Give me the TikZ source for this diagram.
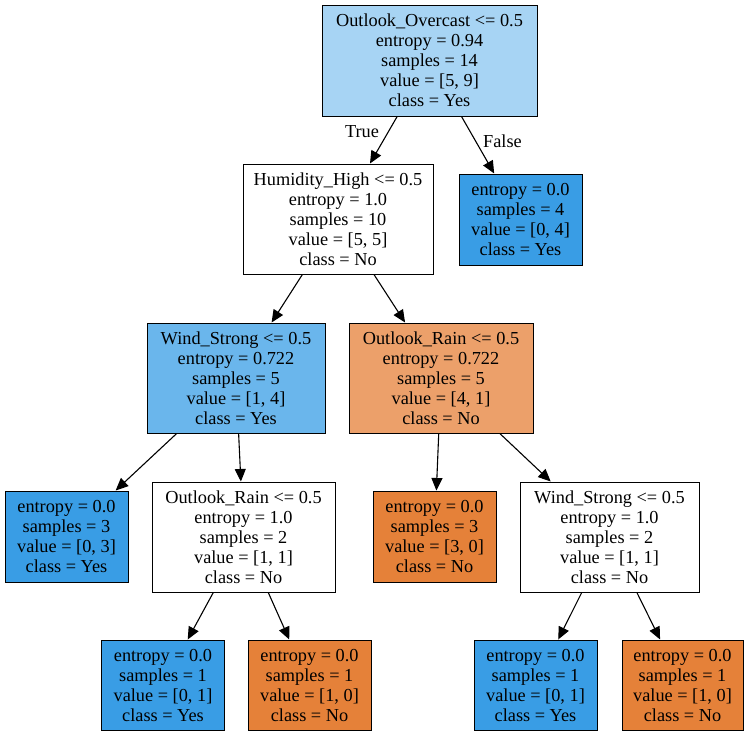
\documentclass[tikz,border=0pt]{standalone}
\usepackage{fontspec}
\setmainfont{Liberation Serif}
\usetikzlibrary{arrows.meta}
\definecolor{yesfull}{HTML}{399DE5}
\definecolor{nofull}{HTML}{E58139}
\definecolor{yeslight}{HTML}{A7D4F4}
\definecolor{yesmid}{HTML}{6AB6EC}
\definecolor{nomid}{HTML}{ECA06A}
\begin{document}
\begin{tikzpicture}[x=1pt,y={(0pt,-1pt)},
  box/.style={draw=black, line width=1pt, inner sep=0pt, align=center,
    font=\fontsize{18.3}{20}\selectfont},
  leafbox/.style={box, minimum width=123pt, minimum height=91pt},
  edge/.style={-{Triangle[length=12.5pt,width=11pt]}, line width=1.1pt},
  elabel/.style={inner sep=0pt, font=\fontsize{18.3}{20}\selectfont}]
\useasboundingbox (0,0) rectangle (749,736);
\fill[white] (0,0) rectangle (749,736);

\node[box, fill=yeslight, minimum width=215pt, minimum height=111pt] (root) at (429.5,60.5)
  {Outlook\_Overcast <= 0.5\\entropy = 0.94\\samples = 14\\value = [5, 9]\\class = Yes};
\node[box, fill=white, minimum width=190pt, minimum height=110pt] (hum) at (338,219)
  {Humidity\_High <= 0.5\\entropy = 1.0\\samples = 10\\value = [5, 5]\\class = No};
\node[leafbox, fill=yesfull] (leafr) at (520.5,219.5)
  {entropy = 0.0\\samples = 4\\value = [0, 4]\\class = Yes};
\node[box, fill=yesmid, minimum width=178pt, minimum height=110pt] (wind) at (236,378)
  {Wind\_Strong <= 0.5\\entropy = 0.722\\samples = 5\\value = [1, 4]\\class = Yes};
\node[box, fill=nomid, minimum width=184pt, minimum height=110pt] (rain) at (441,378)
  {Outlook\_Rain <= 0.5\\entropy = 0.722\\samples = 5\\value = [4, 1]\\class = No};
\node[leafbox, fill=yesfull] (leafa) at (66.5,536.5)
  {entropy = 0.0\\samples = 3\\value = [0, 3]\\class = Yes};
\node[box, fill=white, minimum width=183pt, minimum height=110pt] (rainb) at (243.5,537)
  {Outlook\_Rain <= 0.5\\entropy = 1.0\\samples = 2\\value = [1, 1]\\class = No};
\node[leafbox, fill=nofull] (leafb) at (434.5,536.5)
  {entropy = 0.0\\samples = 3\\value = [3, 0]\\class = No};
\node[box, fill=white, minimum width=179pt, minimum height=110pt] (windb) at (609.5,537)
  {Wind\_Strong <= 0.5\\entropy = 1.0\\samples = 2\\value = [1, 1]\\class = No};
\node[leafbox, fill=yesfull, minimum height=90pt] (leafc) at (163,685)
  {entropy = 0.0\\samples = 1\\value = [0, 1]\\class = Yes};
\node[leafbox, fill=nofull, minimum height=90pt] (leafd) at (309.5,685)
  {entropy = 0.0\\samples = 1\\value = [1, 0]\\class = No};
\node[leafbox, fill=yesfull, minimum height=90pt] (leafe) at (535.5,685)
  {entropy = 0.0\\samples = 1\\value = [0, 1]\\class = Yes};
\node[leafbox, fill=nofull, minimum height=90pt, minimum width=121pt] (leaff) at (682.5,685)
  {entropy = 0.0\\samples = 1\\value = [1, 0]\\class = No};

\draw[edge] (root) -- (hum);
\draw[edge] (root) -- (leafr);
\draw[edge] (hum) -- (wind);
\draw[edge] (hum) -- (rain);
\draw[edge] (wind) -- (leafa);
\draw[edge] (wind) -- (rainb);
\draw[edge] (rain) -- (leafb);
\draw[edge] (rain) -- (windb);
\draw[edge] (rainb) -- (leafc);
\draw[edge] (rainb) -- (leafd);
\draw[edge] (windb) -- (leafe);
\draw[edge] (windb) -- (leaff);

\node[elabel] (ltrue) at (362,132) {True};
\node[elabel] (lfalse) at (502.5,141) {False};
\end{tikzpicture}
\end{document}
